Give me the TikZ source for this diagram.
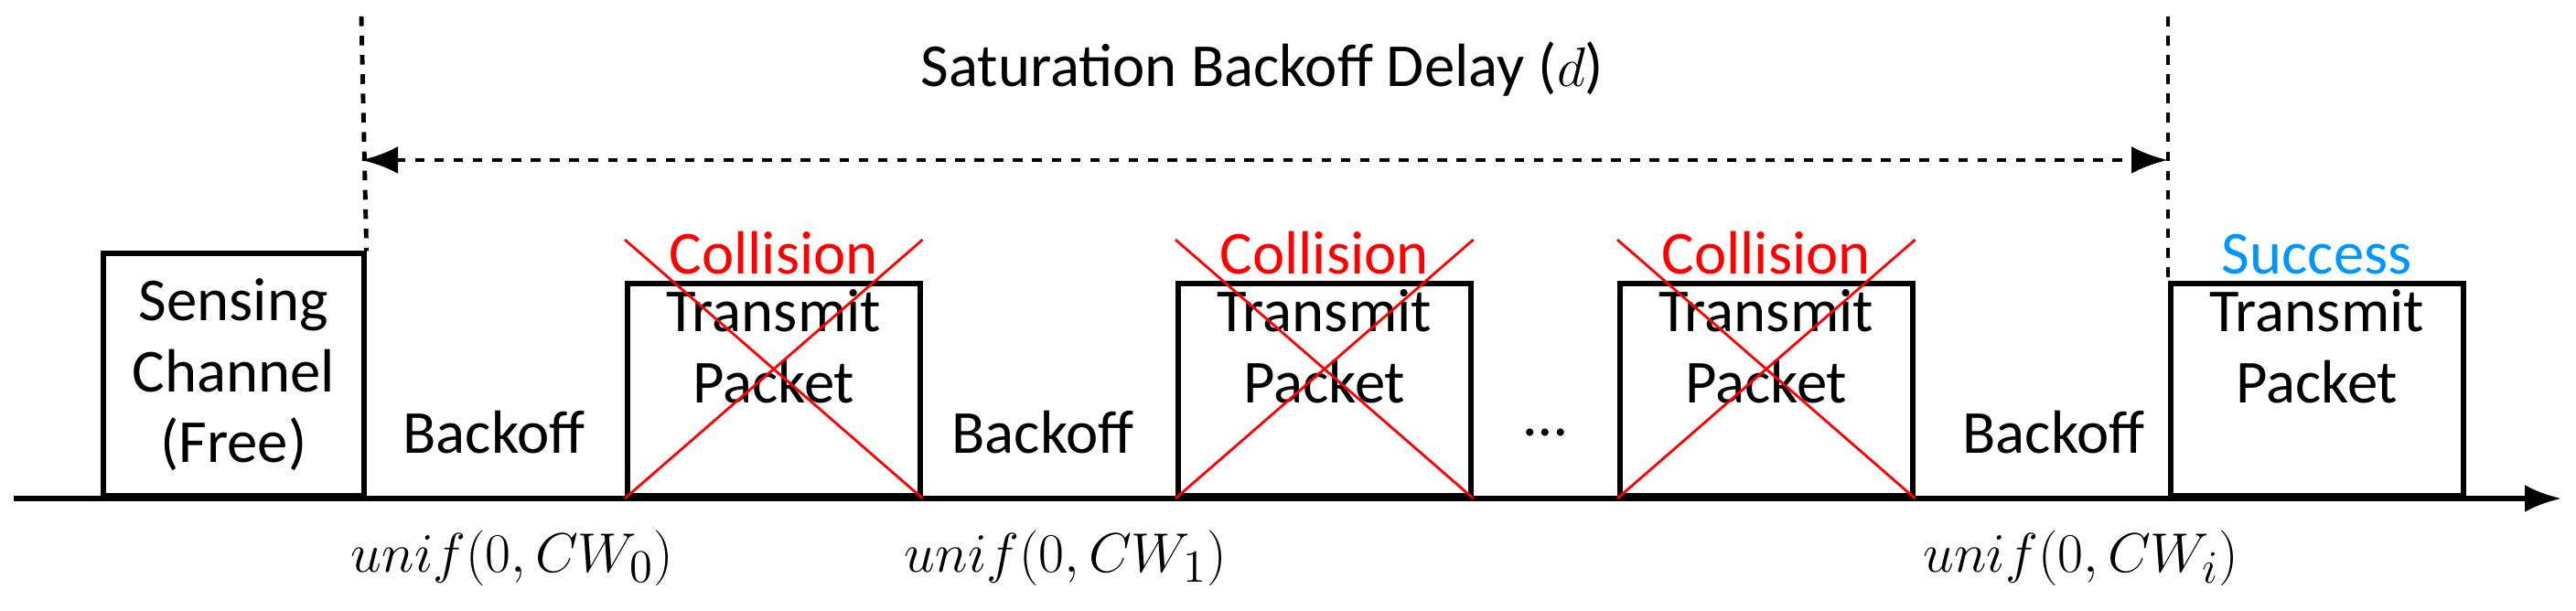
\documentclass[tikz,border=0pt]{standalone}
\usepackage{fontspec}
\setmainfont{Carlito}
\usetikzlibrary{positioning, arrows.meta}

\begin{document}
\begin{tikzpicture}[
    font=\fontsize{19}{22}\selectfont,
    slot/.style={rectangle, draw, line width=1.6pt, anchor=south west, minimum width=3.2cm, align=center, inner sep=2pt},
    cross/.style={red, line width=0.8pt},
    delayline/.style={dashed, line width=1.4pt},
    arrow/.style={-{Latex[length=4mm]}, line width=1.6pt}
]
\useasboundingbox (0,0) rectangle (28.16,6.68);

% time axis
\coordinate (t0) at (0.15,1.23);
\coordinate (t1) at (28.0,1.23);
\draw[arrow] (t0) -- (t1);

% slots
\node[slot, minimum width=2.85cm, minimum height=2.65cm] (sense) at (1.10,1.23) {Sensing\\Channel\\(Free)};
\node[slot, minimum height=2.12cm, text depth=0.95cm] (tx1) at (6.83,1.23) {Transmit\\Packet};
\node[slot, minimum height=2.12cm, text depth=0.95cm] (tx2) at (12.85,1.23) {Transmit\\Packet};
\node[slot, minimum height=2.12cm, text depth=0.95cm] (tx3) at (17.68,1.23) {Transmit\\Packet};
\node[slot, minimum height=2.12cm, text depth=0.95cm] (tx4) at (23.70,1.23) {Transmit\\Packet};

% status labels
\node[text=red, above=-0.05cm of tx1.north] (col1) {Collision};
\node[text=red, above=-0.05cm of tx2.north] (col2) {Collision};
\node[text=red, above=-0.05cm of tx3.north] (col3) {Collision};
\node[text={rgb,255:red,0;green,150;blue,255}, above=-0.05cm of tx4.north] (succ) {Success};

% crosses
\foreach \t in {tx1, tx2, tx3} {
  \draw[cross] (\t.south west) -- ([yshift=0.45cm]\t.north east);
  \draw[cross] (\t.south east) -- ([yshift=0.45cm]\t.north west);
}

% backoff labels
\node (bo1) at (5.40,1.95) {Backoff};
\node (bo2) at (11.40,1.95) {Backoff};
\node (dots) at (16.90,1.95) {\dots};
\node (bo3) at (22.45,1.95) {Backoff};
\node (u0) at (5.60,0.58) {$unif(0,CW_0)$};
\node (u1) at (11.65,0.58) {$unif(0,CW_1)$};
\node (u2) at (22.75,0.58) {$unif(0,CW_i)$};

% delay
\coordinate (d0) at (3.95,6.50);
\coordinate (d1) at (23.70,6.50);
\draw[delayline] (d0) -- (sense.north east);
\draw[delayline] (d1) -- (tx4.north west);
\coordinate (a0) at (3.95,4.93);
\coordinate (a1) at (23.70,4.93);
\draw[delayline, {Latex[length=4mm]}-{Latex[length=4mm]}] (a0) -- (a1);
\node (delay) at (13.80,5.93) {Saturation Backoff Delay ($d$)};

\end{tikzpicture}
\end{document}
